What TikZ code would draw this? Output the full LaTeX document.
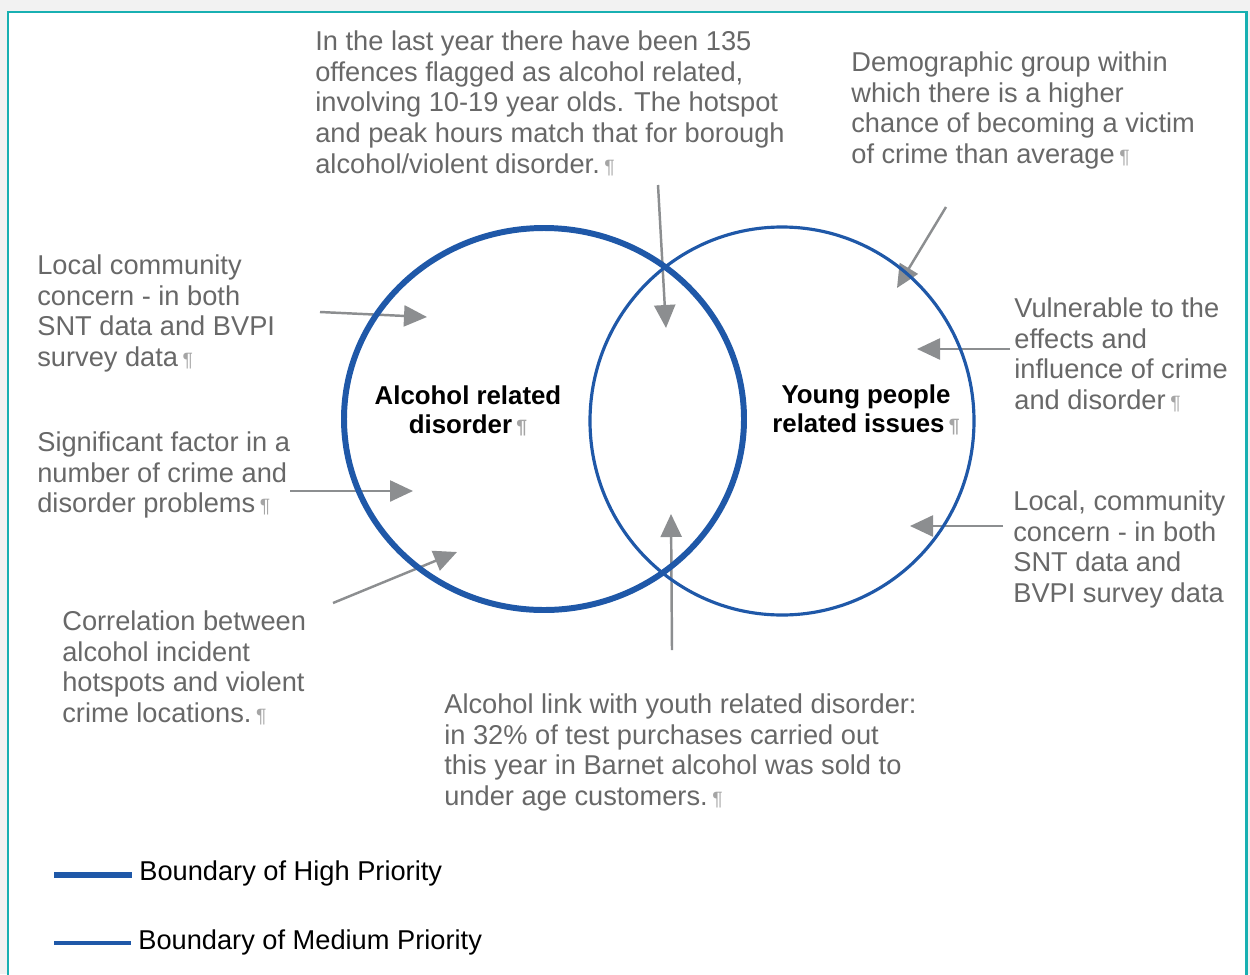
\documentclass[tikz,border=0pt]{standalone}
\usepackage{fontspec}
\setmainfont{Liberation Sans}
\usepackage{xcolor}
\usetikzlibrary{positioning, arrows.meta}
\definecolor{prioblue}{RGB}{31,88,168}
\definecolor{notegray}{RGB}{104,104,104}
\definecolor{arrgray}{RGB}{140,142,144}
\definecolor{frameteal}{RGB}{24,176,178}
\definecolor{markgray}{RGB}{165,165,165}
\newcommand{\pilc}{\,{\color{markgray}\fontsize{11}{11}\selectfont ¶}}
\tikzset{note/.style={align=left, anchor=north west, inner sep=0pt, text=notegray, font=\fontsize{15.5}{17.6}\selectfont}}
\tikzset{ttl/.style={align=center, inner sep=0pt, font=\bfseries\fontsize{14.7}{16.5}\selectfont}}
\tikzset{legtxt/.style={anchor=west, inner sep=0pt, font=\fontsize{15.5}{17.6}\selectfont}}
\tikzset{high/.style={draw=prioblue, line width=3.4pt}}
\tikzset{medium/.style={draw=prioblue, line width=1.8pt}}
\tikzset{arr/.style={draw=arrgray, line width=1.4pt, -{Triangle[length=4.6mm,width=4.2mm]}}}

\begin{document}
\begin{tikzpicture}[x=0.02cm, y=-0.02cm]
\useasboundingbox (0,0) rectangle (1250,974);
\fill[black!5] (0,0) rectangle (1250,974);
\draw[frameteal, line width=1.7pt, fill=white] (8,12) rectangle (1246,1010);

% notes round the circles
\node[note] (lastyr) at (315,30) {In the last year there have been 135\\
	offences flagged as alcohol related,\\
	involving 10-19 year olds. The hotspot\\
	and peak hours match that for borough\\
	alcohol/violent disorder.\pilc};
\node[note] (demog) at (851,51) {Demographic group within\\
	which there is a higher\\
	chance of becoming a victim\\
	of crime than average\pilc};
\node[note] (localA) at (37,254) {Local community\\
	concern - in both\\
	SNT data and BVPI\\
	survey data\pilc};
\node[note] (sigf) at (37,431) {Significant factor in a\\
	number of crime and\\
	disorder problems\pilc};
\node[note] (correl) at (62,610) {Correlation between\\
	alcohol incident\\
	hotspots and violent\\
	crime locations.\pilc};
\node[note] (vuln) at (1014,297) {Vulnerable to the\\
	effects and\\
	influence of crime\\
	and disorder\pilc};
\node[note] (localY) at (1013,490) {Local, community\\
	concern - in both\\
	SNT data and\\
	BVPI survey data};
\node[note] (youthlink) at (444,693) {Alcohol link with youth related disorder:\\
	in 32\% of test purchases carried out\\
	this year in Barnet alcohol was sold to\\
	under age customers.\pilc};

% arrow ends
\coordinate (sLastyr) at (658,185);   \coordinate (tLastyr) at (666,328);
\coordinate (sDemog) at (946,207);    \coordinate (tDemog) at (897,288);
\coordinate (sLocalA) at (320,312);   \coordinate (tLocalA) at (427,317);
\coordinate (sSigf) at (290,491);     \coordinate (tSigf) at (413,491);
\coordinate (sCorrel) at (333,603);   \coordinate (tCorrel) at (457,552);
\coordinate (sVuln) at (1010,349);    \coordinate (tVuln) at (917,349);
\coordinate (sLocalY) at (1003,526);  \coordinate (tLocalY) at (910,526);
\coordinate (sYouth) at (672,650);    \coordinate (tYouth) at (671,514);

\foreach \a in {Lastyr, Demog, LocalA, Sigf, Correl, Vuln, LocalY, Youth}
	\draw[arr] (s\a) -- (t\a);

% the two areas
\draw[medium] (782,421) ellipse [x radius=192, y radius=194];
\draw[high] (544,419) ellipse [x radius=200, y radius=191];

\node[ttl] (alcohol) at (468,411) {Alcohol related\\ disorder\pilc};
\node[ttl] (young) at (866,410) {Young people\\ related issues\pilc};

% legend
\node[legtxt] (hightxt) at (139,873) {Boundary of High Priority};
\node[legtxt] (medtxt) at (138,942) {Boundary of Medium Priority};
\coordinate (hightail) at (54,875);
\coordinate (medtail) at (54,943);
\draw[high, line width=3.6pt] (hightail) -- ([xshift=-4pt]hightxt.west |- hightail);
\draw[medium, line width=2pt] (medtail) -- ([xshift=-4pt]medtxt.west |- medtail);
\end{tikzpicture}
\end{document}
